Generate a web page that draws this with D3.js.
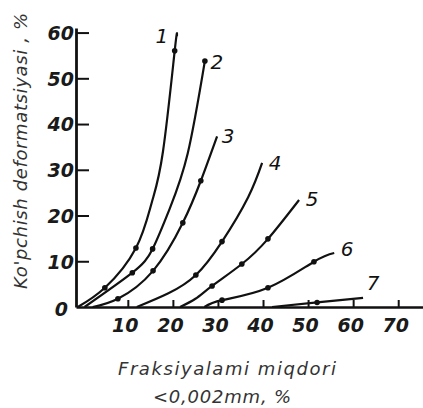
<!DOCTYPE html>
<html>
<head>
<meta charset="utf-8">
<script src="https://cdn.jsdelivr.net/npm/d3@7"></script>
<style>
  body { margin: 0; background: #fff; }
  svg text { font-family: "DejaVu Sans", sans-serif; font-style: italic; }
</style>
</head>
<body>
<script>
let xTicks = [10, 20, 30, 40, 50, 60, 70];
let yTicks = [0, 10, 20, 30, 40, 50, 60];
let curveNames = ["1", "2", "3", "4", "5", "6", "7"];

let curve1 = [[-1.1, 0], [4.9, 4.2, 1], [11.8, 12.9, 1], [15.3, 22.8], [17.8, 34], [20.4, 56, 1], [20.9, 59.2]];
let curve2 = [[0.4, 0], [11.0, 7.5, 1], [15.5, 12.7, 1], [19.3, 21.5], [23.3, 33.6], [27.1, 53.8, 1]];
let curve3 = [[2.2, 0], [7.8, 1.8, 1], [15.6, 7.9, 1], [22.2, 18.4, 1], [26.2, 27.6, 1], [29.8, 37.3]];
let curve4 = [[12, 0], [19, 3], [25.1, 7.0, 1], [30.9, 14.3, 1], [36.7, 24], [39.8, 31.5]];
let curve5 = [[21.6, 0], [25, 1.8], [28.7, 4.6, 1], [35.3, 9.4, 1], [41.1, 14.9, 1], [48, 23.4]];
let curve6 = [[27, 0], [30.9, 1.5, 1], [41.1, 4.2, 1], [51.3, 9.9, 1], [55.8, 11.8]];
let curve7 = [[42, 0], [52, 1.0, 1], [62.2, 2.0]];

let curves = [curve1, curve2, curve3, curve4, curve5, curve6, curve7];

let width = 423, height = 408;

let svg = d3.select("body")
            .append("svg")
            .attr("width", width)
            .attr("height", height);

let x = d3.scaleLinear()
          .domain([-1.5, 75.5])
          .range([76, 423]);

let y = d3.scaleLinear()
          .domain([0, 61])
          .range([307, 28]);

// x axis, ticks pointing up
let gx = svg.append("g")
    .attr("transform", "translate(0," + y(0) + ")")
    .call(d3.axisBottom(x).tickValues(xTicks).tickSizeInner(-7).tickSizeOuter(0).tickPadding(12));

// y axis, ticks pointing right
let gy = svg.append("g")
    .attr("transform", "translate(" + x(-1.5) + ",0)")
    .call(d3.axisLeft(y).tickValues(yTicks).tickSizeInner(-13).tickSizeOuter(0).tickPadding(2));

gx.select(".domain").attr("stroke", "#111").attr("stroke-width", 2.6);
gy.select(".domain").attr("stroke", "#111").attr("stroke-width", 2.8);
svg.selectAll(".tick line").attr("stroke", "#111").attr("stroke-width", 2);
svg.selectAll(".tick text")
   .attr("font-size", 19)
   .attr("font-weight", "bold")
   .attr("fill", "#1a1a1a");
gx.selectAll(".tick text").attr("dx", -3);
gy.selectAll(".tick text").attr("dy", "0.36em");
gy.selectAll(".tick").filter(d => d === 0).select("line").remove();
gy.selectAll(".tick").filter(d => d === 0).select("text").attr("dx", -6).attr("dy", "0.45em");

let line = d3.line()
             .x(d => x(d[0]))
             .y(d => y(d[1]))
             .curve(d3.curveNatural);

svg.selectAll(".curve")
   .data(curves)
   .enter()
   .append("path")
   .attr("fill", "none")
   .attr("stroke", "#111")
   .attr("stroke-width", 2.2)
   .attr("d", line);

let dots = curves.flat().filter(d => d[2] === 1);
svg.selectAll(".dot")
   .data(dots)
   .enter()
   .append("circle")
   .attr("cx", d => x(d[0]))
   .attr("cy", d => y(d[1]))
   .attr("r", 2.8)
   .attr("fill", "#111");

// curve numbers next to the line ends
let labelShift = [[-15, 7], [12, 8], [11, 7], [13, 7], [13, 6], [13, 3], [10, -8]];
svg.selectAll(".lab")
   .data(curves)
   .enter()
   .append("text")
   .attr("x", (d, i) => x(d[d.length - 1][0]) + labelShift[i][0])
   .attr("y", (d, i) => y(d[d.length - 1][1]) + labelShift[i][1])
   .attr("text-anchor", "middle")
   .attr("font-size", 20)
   .attr("fill", "#111")
   .text((d, i) => curveNames[i]);

svg.append("text")
   .attr("transform", "translate(27,151) rotate(-90)")
   .attr("text-anchor", "middle")
   .attr("font-size", 18)
   .attr("textLength", 276)
   .attr("lengthAdjust", "spacing")
   .attr("fill", "#333")
   .text("Ko'pchish deformatsiyasi , %");

svg.append("text")
   .attr("x", 227)
   .attr("y", 375)
   .attr("text-anchor", "middle")
   .attr("font-size", 18)
   .attr("textLength", 218)
   .attr("lengthAdjust", "spacing")
   .attr("fill", "#333")
   .text("Fraksiyalami miqdori");

svg.append("text")
   .attr("x", 222)
   .attr("y", 403)
   .attr("text-anchor", "middle")
   .attr("font-size", 18)
   .attr("textLength", 138)
   .attr("lengthAdjust", "spacing")
   .attr("fill", "#333")
   .text("<0,002mm, %");
</script>
</body>
</html>
